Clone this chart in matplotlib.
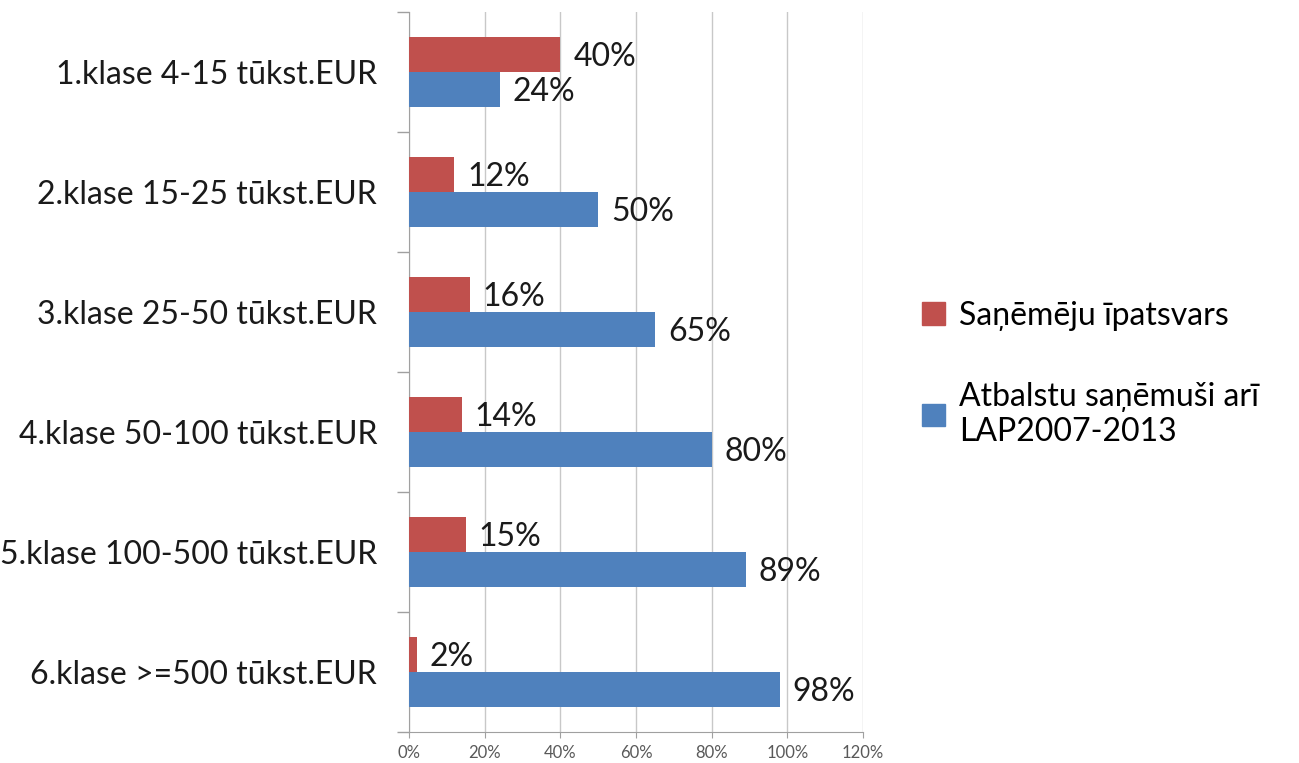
import numpy as np
import matplotlib.pyplot as plt
from matplotlib.patches import Patch

plt.rcParams['font.family'] = ['Lato', 'DejaVu Sans']

categories = ['1.klase 4-15 tūkst.EUR', '2.klase 15-25 tūkst.EUR', '3.klase 25-50 tūkst.EUR',
              '4.klase 50-100 tūkst.EUR', '5.klase 100-500 tūkst.EUR', '6.klase >=500 tūkst.EUR']
share = [40, 12, 16, 14, 15, 2]
also_lap = [24, 50, 65, 80, 89, 98]
xticks = [0, 20, 40, 60, 80, 100, 120]

red = '#c0504d'
blue = '#4f81bd'
fs = 23

fig = plt.figure(figsize=(12.99, 7.63), dpi=100)
ax = fig.add_axes([409 / 1299, 1 - 732 / 763, (863 - 409) / 1299, 720 / 763])

y = np.arange(len(categories))
h = 0.29
ax.barh(y - h / 2, share, height=h, color=red, zorder=3)
ax.barh(y + h / 2, also_lap, height=h, color=blue, zorder=3)

for yi, v in zip(y, share):
    ax.text(v + 3.4, yi - h / 2 + 0.02, '%d%%' % v, va='center', ha='left', fontsize=fs, color='#1a1a1a')
for yi, v in zip(y, also_lap):
    ax.text(v + 3.4, yi + h / 2 + 0.02, '%d%%' % v, va='center', ha='left', fontsize=fs, color='#1a1a1a')

ax.set_xlim(0, 120)
ax.set_ylim(len(categories) - 0.5, -0.5)
ax.set_xticks(xticks)
ax.set_xticklabels(['%d%%' % t for t in xticks], fontsize=12, color='#595959')
ax.set_yticks(y)
ax.set_yticklabels(categories, fontsize=fs, color='#1a1a1a')
ax.set_yticks(np.arange(len(categories) + 1) - 0.5, minor=True)
ax.tick_params(axis='y', which='major', length=0, pad=23)
ax.tick_params(axis='y', which='minor', length=9, color='#a0a0a0', width=1)
ax.tick_params(axis='x', length=4, color='#a0a0a0', pad=5)
ax.grid(axis='x', color='#c8c8c8', linewidth=1, zorder=0)

for side in ['top', 'right']:
    ax.spines[side].set_visible(False)
for side in ['left', 'bottom']:
    ax.spines[side].set_color('#a0a0a0')

handles = [Patch(color=red, label='Saņēmēju īpatsvars'),
           Patch(color=blue, label='Atbalstu saņēmuši arī\nLAP2007-2013')]
fig.legend(handles=handles, loc='upper left', bbox_to_anchor=(893 / 1299, 1 - 272 / 763),
           frameon=False, fontsize=fs, handlelength=0.72, handleheight=0.72,
           handletextpad=0.45, labelspacing=1.6)

fig.savefig('out.png', dpi=100)
